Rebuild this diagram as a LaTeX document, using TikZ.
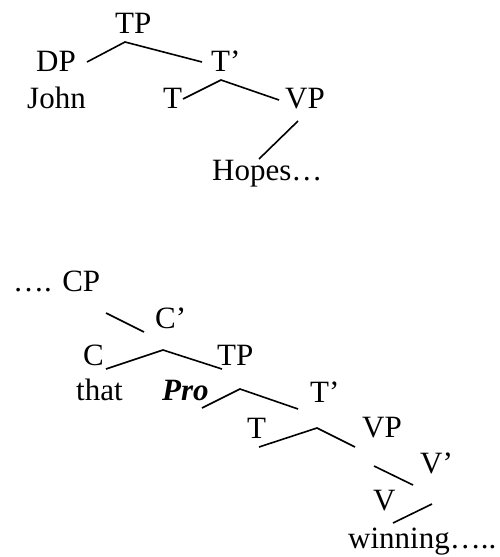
\documentclass[tikz,border=0pt]{standalone}
\usepackage{fontspec}
\setmainfont{Liberation Serif}
\begin{document}
\begin{tikzpicture}[x=1pt,y=-1pt,
  lab/.style={anchor=base west,inner sep=0pt,font=\fontsize{31}{36}\selectfont},
  br/.style={line width=1.6pt}]
\useasboundingbox (0,0) rectangle (500,557);
% upper tree
\node[lab] (tp1) at (115,33) {TP};
\node[lab] (dp) at (36,71) {DP};
\node[lab] (john) at (27,108) {John};
\node[lab] (tb1) at (211,71) {T’};
\node[lab] (t1) at (163,108) {T};
\node[lab] (vp1) at (285,108) {VP};
\node[lab] (hopes) at (212,180) {Hopes…};
\coordinate (a1) at (87,62);
\coordinate (a2) at (125,42);
\coordinate (a3) at (202,62);
\coordinate (b1) at (183,99);
\coordinate (b2) at (221,80);
\coordinate (b3) at (279,100);
\coordinate (c1) at (298,121);
\coordinate (c2) at (259,159);
\draw[br] (a1) -- (a2) -- (a3);
\draw[br] (b1) -- (b2) -- (b3);
\draw[br] (c1) -- (c2);
% lower tree
\node[lab] (cp) at (13,291) {…. CP};
\node[lab] (cb) at (155,328) {C’};
\node[lab] (c) at (83,365) {C};
\node[lab] (tp2) at (217,365) {TP};
\node[lab] (that) at (76,400) {that};
\node[lab] (pro) at (162,400) {\bfseries\itshape Pro};
\node[lab] (tb2) at (310,402) {T’};
\node[lab] (t2) at (247,438) {T};
\node[lab] (vp2) at (362,437) {VP};
\node[lab] (vb) at (420,473) {V’};
\node[lab] (v) at (373,510) {V};
\node[lab] (win) at (348,548) {winning…..};
\coordinate (d1) at (106,313);
\coordinate (d2) at (144,332);
\coordinate (e1) at (106,369);
\coordinate (e2) at (163,350);
\coordinate (e3) at (222,369);
\coordinate (f1) at (202,408);
\coordinate (f2) at (240,389);
\coordinate (f3) at (298,409);
\coordinate (g1) at (259,447);
\coordinate (g2) at (317,428);
\coordinate (g3) at (355,447);
\coordinate (h1) at (374,466);
\coordinate (h2) at (413,485);
\coordinate (i1) at (393,523);
\coordinate (i2) at (432,504);
\draw[br] (d1) -- (d2);
\draw[br] (e1) -- (e2) -- (e3);
\draw[br] (f1) -- (f2) -- (f3);
\draw[br] (g1) -- (g2) -- (g3);
\draw[br] (h1) -- (h2);
\draw[br] (i1) -- (i2);
\end{tikzpicture}
\end{document}
